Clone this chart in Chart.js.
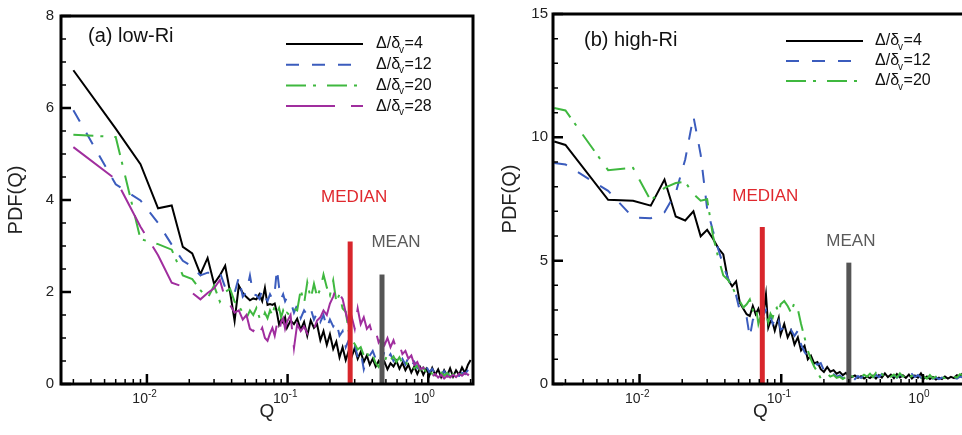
<!DOCTYPE html>
<html>
<head>
<meta charset="utf-8">
<script src="https://cdn.jsdelivr.net/npm/chart.js@4.4.1/dist/chart.umd.min.js"></script>
<style>
  html, body { margin: 0; padding: 0; background: #fff; overflow: hidden; }
  body { width: 962px; height: 435px; position: relative; }
  .panel { position: absolute; top: 0; height: 435px; }
  #panelA { left: 0; width: 480px; }
  #panelB { left: 480px; width: 495px; }
</style>
</head>
<body>
<div class="panel" id="panelA"><canvas id="chartA" width="480" height="435"></canvas></div>
<div class="panel" id="panelB"><canvas id="chartB" width="495" height="435"></canvas></div>
<script>
// grid size labels (Δ/δv)
const gridSizesLow = ["4", "12", "20", "28"];
const gridSizesHigh = ["4", "12", "20"];

// Q bins (shared by the curves of each panel)
const qLow = [
  0.003, 0.006, 0.009, 0.012, 0.015, 0.018, 0.021, 0.024, 0.027, 0.030,
  0.033, 0.036, 0.039, 0.042, 0.045, 0.048, 0.051, 0.054, 0.057, 0.060,
  0.063, 0.066, 0.069, 0.072, 0.075, 0.078, 0.081, 0.084, 0.087, 0.090,
  0.093, 0.096, 0.099,
  0.105, 0.111, 0.117, 0.124, 0.131, 0.138, 0.146, 0.154, 0.162, 0.171,
  0.180, 0.190, 0.200, 0.211, 0.222, 0.234, 0.246, 0.259, 0.272, 0.286,
  0.300, 0.315, 0.331, 0.348, 0.366, 0.384, 0.403, 0.423, 0.444, 0.466,
  0.489, 0.513, 0.539, 0.566, 0.594, 0.624, 0.655, 0.688, 0.722, 0.758,
  0.796, 0.836, 0.878, 0.922, 0.968, 1.016, 1.067, 1.120, 1.176, 1.235,
  1.297, 1.362, 1.430, 1.501, 1.576, 1.655, 1.738, 1.825, 1.916, 2.0
];
const qHigh = [0.0025].concat(qLow);

// (a) low-Ri
const pdfLow4 = [
  6.82, 5.55, 4.78, 3.82, 3.88, 2.98, 2.84, 2.39, 2.74, 2.18,
  2.36, 2.57, 2.00, 1.37, 2.14, 1.98, 1.89, 1.82, 1.86, 1.84,
  1.95, 1.80, 2.09, 1.72, 1.74, 1.72, 1.75, 1.55, 1.29, 1.40,
  1.33, 1.45, 1.22,
  1.38, 1.30, 1.42, 1.18, 1.35, 1.05, 1.38, 1.22, 1.30, 0.95,
  1.15, 0.85, 1.08, 0.76, 0.92, 0.58, 0.80, 0.52, 0.72, 0.60,
  0.78, 0.55, 0.70, 0.48, 0.62, 0.42, 0.55, 0.38, 0.50, 0.35,
  0.48, 0.32, 0.45, 0.38, 0.50, 0.33, 0.46, 0.30, 0.42, 0.25,
  0.38, 0.22, 0.36, 0.20, 0.33, 0.18, 0.35, 0.20, 0.32, 0.15,
  0.30, 0.18, 0.34, 0.16, 0.30, 0.20, 0.36, 0.24, 0.42, 0.52
];
const pdfLow12 = [
  5.95, 4.34, 3.99, 3.50, 3.03, 2.68, 2.55, 2.36, 2.42, 2.41,
  2.43, 2.10, 2.05, 1.98, 2.32, 1.90, 2.00, 2.36, 1.95, 1.93,
  1.85, 2.05, 1.90, 1.80, 1.95, 1.85, 2.00, 2.50, 2.10, 1.85,
  1.95, 1.80, 1.88,
  1.80, 1.55, 1.72, 1.43, 1.60, 1.50, 1.64, 1.40, 1.55, 1.35,
  1.50, 1.22, 1.40, 1.25, 1.36, 1.05, 1.15, 0.80, 0.95, 0.75,
  0.87, 0.58, 0.70, 0.32, 0.55, 0.62, 0.72, 0.55, 0.68, 0.50,
  0.72, 0.55, 0.65, 0.50, 0.58, 0.45, 0.55, 0.42, 0.58, 0.40,
  0.48, 0.35, 0.42, 0.30, 0.38, 0.26, 0.33, 0.22, 0.30, 0.20,
  0.28, 0.18, 0.26, 0.20, 0.25, 0.18, 0.24, 0.22, 0.30, 0.34
];
const pdfLow20 = [
  5.42, 5.37, 3.15, 3.04, 2.92, 2.36, 2.28, 2.04, 1.86, 2.14,
  1.79, 2.00, 2.07, 1.79, 1.70, 1.55, 1.43, 1.60, 1.50, 1.65,
  1.45, 1.36, 1.55, 1.43, 1.60, 1.50, 1.70, 1.55, 1.65, 1.45,
  1.60, 1.50, 1.55,
  1.48, 1.64, 1.60, 2.05, 1.75, 2.21, 1.85, 2.18, 1.90, 2.07,
  2.38, 2.10, 1.93, 2.25, 1.79, 1.95, 1.64, 1.57, 1.15, 0.95,
  0.87, 0.75, 0.80, 0.62, 0.70, 0.52, 0.62, 0.45, 0.37, 0.55,
  0.48, 0.65, 0.52, 0.60, 0.48, 0.58, 0.45, 0.50, 0.38, 0.45,
  0.34, 0.40, 0.30, 0.36, 0.25, 0.30, 0.22, 0.28, 0.20, 0.25,
  0.18, 0.24, 0.16, 0.22, 0.18, 0.24, 0.20, 0.26, 0.24, 0.28
];
const pdfLow28 = [
  5.15, 4.45, 3.42, 2.80, 2.20, 2.12, 1.98, 1.84, 1.98, 2.08,
  2.26, 1.86, 1.72, 1.55, 1.60, 1.40, 1.50, 1.20, 1.15, 1.26,
  1.10, 1.22, 1.00, 0.94, 1.10, 1.22, 1.05, 1.30, 1.12, 1.35,
  1.43, 1.20, 1.35,
  1.50, 0.78, 1.30, 1.15, 1.25, 1.10, 1.30, 1.20, 1.38, 1.45,
  1.60, 1.50, 1.75, 1.90, 2.10, 1.95, 1.85, 1.55, 1.30, 1.45,
  1.20, 1.64, 1.30, 1.45, 1.20, 1.28, 1.05, 1.15, 0.90, 1.00,
  0.85, 1.00, 0.80, 0.95, 0.75, 0.85, 0.65, 0.72, 0.55, 0.62,
  0.42, 0.48, 0.32, 0.36, 0.22, 0.28, 0.16, 0.22, 0.14, 0.20,
  0.12, 0.18, 0.14, 0.20, 0.15, 0.22, 0.18, 0.24, 0.20, 0.30
];

// (b) high-Ri
const pdfHigh4 = [
  9.83,
  9.69, 7.47, 7.43, 7.23, 8.29, 6.79, 6.63, 7.00, 5.99, 6.25,
  5.89, 5.50, 5.25, 4.25, 3.96, 4.16, 3.30, 3.05, 2.83, 2.76,
  3.16, 2.83, 3.05, 2.70, 2.90, 3.63, 2.29, 2.55, 2.49, 2.16,
  2.45, 2.69, 2.00,
  2.43, 1.89, 2.16, 1.60, 1.89, 1.36, 1.55, 1.00, 1.15, 0.83,
  0.89, 0.60, 0.49, 0.69, 0.50, 0.56, 0.42, 0.49, 0.36, 0.45,
  0.32, 0.28, 0.35, 0.25, 0.32, 0.22, 0.30, 0.24, 0.34, 0.22,
  0.36, 0.26, 0.43, 0.28, 0.38, 0.24, 0.40, 0.27, 0.35, 0.25,
  0.38, 0.22, 0.34, 0.26, 0.43, 0.22, 0.30, 0.20, 0.28, 0.18,
  0.26, 0.20, 0.30, 0.22, 0.29, 0.24, 0.36, 0.30, 0.45, 0.40
];
const pdfHigh12 = [
  8.96,
  8.90, 7.83, 6.75, 6.72, 6.96, 7.75, 9.10, 10.85, 9.30, 7.10,
  6.20, 5.45, 4.80, 4.30, 3.90, 3.60, 2.96, 2.83, 2.70, 1.90,
  2.60, 2.75, 2.90, 2.65, 2.80, 3.00, 2.55, 2.75, 2.43, 2.60,
  2.35, 2.55, 2.20,
  2.30, 2.05, 2.20, 1.95, 2.16, 1.60, 1.30, 1.10, 1.00, 0.90,
  0.78, 0.85, 0.55, 0.62, 0.45, 0.40, 0.30, 0.35, 0.24, 0.32,
  0.22, 0.30, 0.20, 0.32, 0.24, 0.36, 0.22, 0.34, 0.25, 0.38,
  0.28, 0.40, 0.30, 0.42, 0.28, 0.36, 0.26, 0.38, 0.30, 0.45,
  0.32, 0.40, 0.28, 0.36, 0.25, 0.33, 0.22, 0.30, 0.22, 0.27,
  0.20, 0.26, 0.22, 0.28, 0.20, 0.26, 0.22, 0.30, 0.26, 0.34
];
const pdfHigh20 = [
  11.19,
  11.09, 8.67, 8.76, 7.43, 7.95, 8.15, 8.19, 7.70, 7.43, 7.49,
  6.00, 5.10, 4.40, 4.23, 3.95, 3.60, 3.36, 3.10, 3.23, 3.43,
  3.00, 3.20, 2.43, 2.80, 2.60, 2.89, 2.50, 2.85, 2.69, 3.00,
  3.09, 2.85, 3.23,
  3.36, 3.16, 2.90, 3.30, 3.03, 2.43, 1.89, 1.36, 1.00, 0.70,
  0.49, 0.23, 0.40, 0.43, 0.30, 0.36, 0.25, 0.29, 0.20, 0.29,
  0.22, 0.32, 0.25, 0.36, 0.28, 0.38, 0.30, 0.42, 0.28, 0.45,
  0.32, 0.40, 0.28, 0.45, 0.30, 0.38, 0.26, 0.43, 0.30, 0.36,
  0.25, 0.33, 0.22, 0.29, 0.20, 0.30, 0.22, 0.36, 0.23, 0.30,
  0.22, 0.28, 0.24, 0.36, 0.25, 0.30, 0.26, 0.40, 0.35, 0.45
];

// median / mean markers: [Q, bar height]
const medianLow = [0.2785, 3.10];
const meanLow = [0.469, 2.38];
const medianHigh = [0.0735, 6.36];
const meanHigh = [0.30, 4.92];

// ticks
const xMajorTicks = [0.01, 0.1, 1];
const xTickBase = "10";
const xTickExponents = ["-2", "-1", "0"];
const xMinorTicks = [0.003, 0.004, 0.005, 0.006, 0.007, 0.008, 0.009,
  0.02, 0.03, 0.04, 0.05, 0.06, 0.07, 0.08, 0.09,
  0.2, 0.3, 0.4, 0.5, 0.6, 0.7, 0.8, 0.9, 2];
const yTicksLow = [0, 2, 4, 6, 8];
const yTicksHigh = [0, 5, 10, 15];

const FONT = '"Liberation Sans", Arial, Helvetica, sans-serif';
const COLORS = { c4: "#000000", c12: "#3b5cbd", c20: "#3fb83f", c28: "#a02e9e" };
const DASHES = { c4: [], c12: [13, 13], c20: [20, 7, 3, 11], c28: [49, 16] };

function pts(q, ys) {
  return q.map((v, i) => ({ x: v, y: ys[i] }));
}

function curve(key, n, q, ys, order) {
  return {
    label: "\u0394/\u03B4v=" + n,
    gridSize: n,
    data: pts(q, ys),
    borderColor: COLORS[key],
    borderDash: DASHES[key],
    borderWidth: 2,
    pointRadius: 0,
    tension: 0,
    fill: false,
    order: order,
  };
}

function marker(m, color) {
  return {
    label: "",
    isMarker: true,
    data: [{ x: m[0], y: 0 }, { x: m[0], y: m[1] }],
    borderColor: color,
    borderWidth: 5,
    borderCapStyle: "butt",
    pointRadius: 0,
    order: 0,
  };
}

function drawDeltaLabel(ctx, x, y, n) {
  ctx.fillStyle = "#111";
  ctx.textAlign = "left";
  ctx.textBaseline = "middle";
  ctx.font = "16px " + FONT;
  ctx.fillText("\u0394/\u03B4", x, y);
  let w = ctx.measureText("\u0394/\u03B4").width;
  ctx.font = "10px " + FONT;
  ctx.fillText("v", x + w - 1, y + 6);
  let ws = ctx.measureText("v").width;
  ctx.font = "16px " + FONT;
  ctx.fillText("=" + n, x + w + ws - 0.5, y);
}

const paperFrame = {
  id: "paperFrame",
  afterDatasetsDraw(chart, args, o) {
    const { ctx, chartArea: a, scales: { x, y } } = chart;
    ctx.save();

    // inward tick marks
    ctx.strokeStyle = "#000";
    ctx.lineWidth = 1.5;
    ctx.beginPath();
    xMinorTicks.forEach((v) => {
      const px = x.getPixelForValue(v);
      ctx.moveTo(px, a.bottom);
      ctx.lineTo(px, a.bottom - 5);
    });
    for (let v = 0; v <= y.max + 1e-9; v += o.yMinorStep) {
      const py = y.getPixelForValue(v);
      ctx.moveTo(a.left, py);
      ctx.lineTo(a.left + 5, py);
    }
    ctx.stroke();
    ctx.lineWidth = 2.5;
    ctx.beginPath();
    xMajorTicks.forEach((v) => {
      const px = x.getPixelForValue(v);
      ctx.moveTo(px, a.bottom);
      ctx.lineTo(px, a.bottom - 10);
    });
    o.yTicks.forEach((v) => {
      const py = y.getPixelForValue(v);
      ctx.moveTo(a.left, py);
      ctx.lineTo(a.left + 10, py);
    });
    ctx.stroke();

    // frame
    ctx.lineWidth = 3;
    ctx.strokeRect(a.left, a.top, a.right - a.left, a.bottom - a.top);

    // x tick labels: 10 with a raised exponent
    ctx.fillStyle = "#222";
    ctx.textBaseline = "alphabetic";
    xMajorTicks.forEach((v, i) => {
      const px = x.getPixelForValue(v);
      ctx.font = "14px " + FONT;
      ctx.textAlign = "right";
      ctx.fillText(xTickBase, px + 1, a.bottom + 19);
      ctx.font = "10px " + FONT;
      ctx.textAlign = "left";
      ctx.fillText(xTickExponents[i], px + 1, a.bottom + 13);
    });

    // panel tag
    ctx.fillStyle = "#111";
    ctx.textAlign = "left";
    ctx.textBaseline = "middle";
    ctx.font = "20px " + FONT;
    ctx.fillText(o.tag, o.tagX, o.tagY);

    // legend
    const series = chart.data.datasets.filter((d) => !d.isMarker);
    series.sort((p, q) => Number(p.gridSize) - Number(q.gridSize));
    series.forEach((d, i) => {
      const ly = o.legendY + i * o.legendStep;
      ctx.strokeStyle = d.borderColor;
      ctx.lineWidth = 2;
      ctx.setLineDash(d.borderDash);
      ctx.beginPath();
      ctx.moveTo(o.legendX1, ly);
      ctx.lineTo(o.legendX2, ly);
      ctx.stroke();
      ctx.setLineDash([]);
      drawDeltaLabel(ctx, o.legendText, ly, d.gridSize);
    });

    // MEDIAN / MEAN captions
    ctx.textAlign = "center";
    ctx.textBaseline = "middle";
    ctx.font = "17px " + FONT;
    o.captions.forEach((c) => {
      ctx.fillStyle = c.color;
      ctx.fillText(c.text, x.getPixelForValue(c.q) + c.dx, c.y);
    });

    ctx.restore();
  },
};

function buildPanel(canvasId, p) {
  new Chart(document.getElementById(canvasId), {
    type: "line",
    data: { datasets: p.datasets },
    plugins: [paperFrame],
    options: {
      responsive: false,
      animation: false,
      events: [],
      layout: { padding: { left: 0, top: 9, right: 7, bottom: 0 } },
      plugins: {
        legend: { display: false },
        tooltip: { enabled: false },
        paperFrame: p.frame,
      },
      scales: {
        x: {
          type: "logarithmic",
          min: 0.00245,
          max: 2.08,
          afterFit: (s) => { s.height = 51; },
          afterBuildTicks: (s) => { s.ticks = xMajorTicks.map((v) => ({ value: v })); },
          grid: { display: false, drawTicks: false },
          border: { display: false },
          ticks: { display: false },
          title: {
            display: true,
            text: "Q",
            color: "#222",
            font: { family: FONT, size: 19 },
            padding: { top: 0, bottom: 12 },
          },
        },
        y: {
          min: 0,
          max: p.yMax,
          afterFit: (s) => { s.width = p.yWidth; },
          afterBuildTicks: (s) => { s.ticks = p.yTicks.map((v) => ({ value: v })); },
          grid: { display: false, drawTicks: false },
          border: { display: false },
          ticks: {
            padding: p.yTickPad,
            color: "#222",
            font: { family: FONT, size: 15 },
          },
          title: {
            display: true,
            text: "PDF(Q)",
            color: "#222",
            font: { family: FONT, size: 20 },
            padding: { top: p.yTitlePad, bottom: 0 },
          },
        },
      },
    },
  });
}

buildPanel("chartA", {
  yMax: 8,
  yTicks: yTicksLow,
  yWidth: 61,
  yTickPad: 7,
  yTitlePad: 4,
  datasets: [
    marker(medianLow, "#d8262c"),
    marker(meanLow, "#555555"),
    curve("c28", gridSizesLow[3], qLow, pdfLow28, 1),
    curve("c20", gridSizesLow[2], qLow, pdfLow20, 2),
    curve("c12", gridSizesLow[1], qLow, pdfLow12, 3),
    curve("c4", gridSizesLow[0], qLow, pdfLow4, 4),
  ],
  frame: {
    yTicks: yTicksLow,
    yMinorStep: 0.5,
    tag: "(a) low-Ri",
    tagX: 88,
    tagY: 36,
    legendX1: 286,
    legendX2: 363,
    legendText: 376,
    legendY: 44,
    legendStep: 20.7,
    captions: [
      { text: "MEDIAN", q: medianLow[0], dx: 4, y: 197, color: "#e0282e" },
      { text: "MEAN", q: meanLow[0], dx: 14, y: 242, color: "#5a5a5a" },
    ],
  },
});

buildPanel("chartB", {
  yMax: 15,
  yTicks: yTicksHigh,
  yWidth: 73,
  yTickPad: 5,
  yTitlePad: 18,
  datasets: [
    marker(medianHigh, "#d8262c"),
    marker(meanHigh, "#555555"),
    curve("c20", gridSizesHigh[2], qHigh, pdfHigh20, 2),
    curve("c12", gridSizesHigh[1], qHigh, pdfHigh12, 3),
    curve("c4", gridSizesHigh[0], qHigh, pdfHigh4, 4),
  ],
  frame: {
    yTicks: yTicksHigh,
    yMinorStep: 1,
    tag: "(b) high-Ri",
    tagX: 104,
    tagY: 40,
    legendX1: 306,
    legendX2: 383,
    legendText: 395,
    legendY: 41,
    legendStep: 20,
    captions: [
      { text: "MEDIAN", q: medianHigh[0], dx: 3, y: 196, color: "#e0282e" },
      { text: "MEAN", q: meanHigh[0], dx: 2, y: 241, color: "#5a5a5a" },
    ],
  },
});
</script>
</body>
</html>
